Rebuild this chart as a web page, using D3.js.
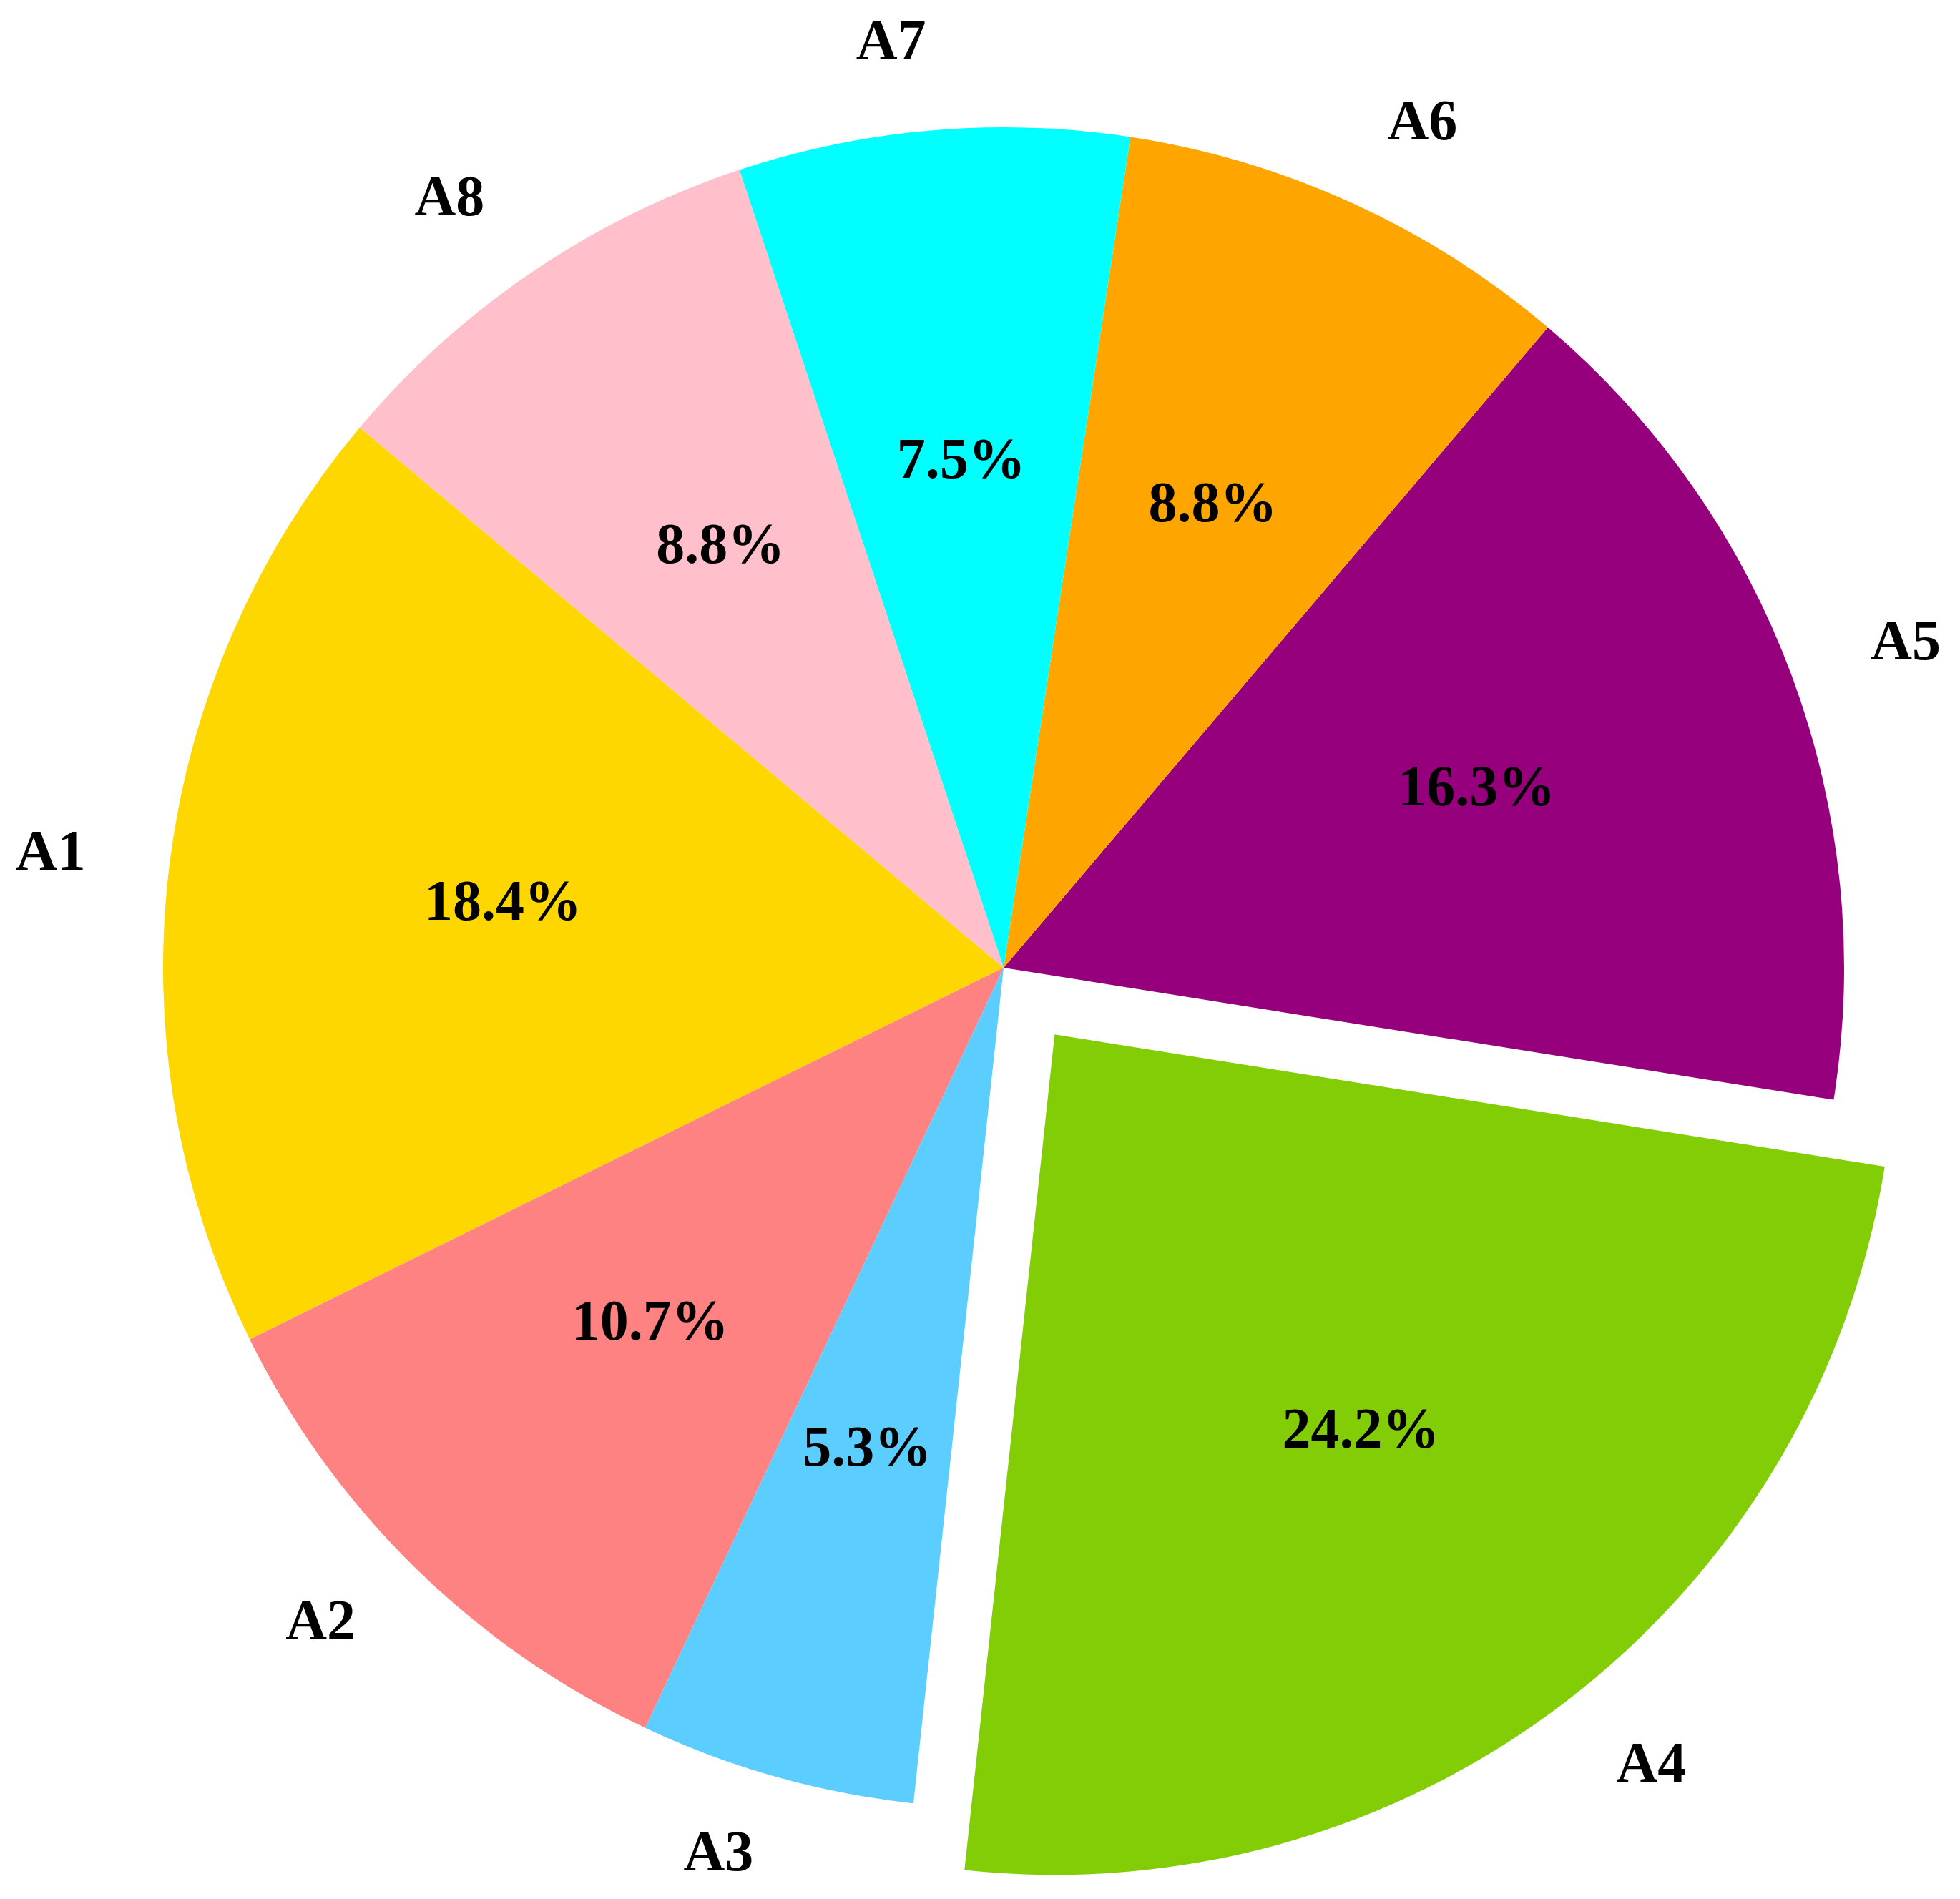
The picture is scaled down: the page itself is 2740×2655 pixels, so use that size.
<!DOCTYPE html>
<html>
<head>
<meta charset="utf-8">
<script src="https://cdn.jsdelivr.net/npm/d3@7"></script>
<style>
  html, body { margin: 0; padding: 0; background: #fff; }
  svg { display: block; }
  text { font-family: "Liberation Serif", "Times New Roman", Times, serif; font-weight: bold; }
</style>
</head>
<body>
<svg id="chart" width="2740" height="2655"></svg>
<script>
const categories = ["A1", "A2", "A3", "A4", "A5", "A6", "A7", "A8"];
const values = [18.4, 10.7, 5.3, 24.2, 16.3, 8.8, 7.5, 8.8];
const colors = ["#FFD700", "#FF8282", "#5BCEFF", "#82CD05", "#96007D", "#FFA500", "#00FFFF", "#FFC0CB"];
const explode = [0, 0, 0, 0.1, 0, 0, 0, 0];

const W = 2740, H = 2655;
const cx = 1403, cy = 1353, R = 1175;
const fontSize = 80;

const svg = d3.select("#chart");
const g = svg.append("g").attr("transform", `translate(${cx},${cy})`);

// matplotlib-style: start at 140° (counterclockwise from 3 o'clock), going counterclockwise
const start = (90 - 140) * Math.PI / 180;
const pie = d3.pie().sort(null).value(d => d.v)
  .startAngle(start).endAngle(start - 2 * Math.PI);

const data = categories.map((c, i) => ({ c, v: values[i], col: colors[i], ex: explode[i] }));
const arcs = pie(data);
const total = d3.sum(values);

const arc = d3.arc().innerRadius(0).outerRadius(R);

arcs.forEach(a => {
  const mid = (a.startAngle + a.endAngle) / 2;
  const ox = Math.sin(mid) * a.data.ex * R;
  const oy = -Math.cos(mid) * a.data.ex * R;
  const sg = g.append("g").attr("transform", `translate(${ox},${oy})`);
  sg.append("path").attr("d", arc(a)).attr("fill", a.data.col);

  // percentage label
  const px = Math.sin(mid) * 0.6 * R, py = -Math.cos(mid) * 0.6 * R;
  sg.append("text")
    .attr("x", px).attr("y", py).attr("dy", "0.22em")
    .attr("text-anchor", "middle")
    .attr("font-size", fontSize)
    .attr("fill", "#000")
    .text((a.data.v / total * 100).toFixed(1) + "%");

  // category label
  const lx = Math.sin(mid) * 1.1 * R, ly = -Math.cos(mid) * 1.1 * R;
  sg.append("text")
    .attr("x", lx).attr("y", ly).attr("dy", "0.22em")
    .attr("text-anchor", lx < 0 ? "end" : "start")
    .attr("font-size", fontSize)
    .attr("fill", "#000")
    .text(a.data.c);
});
</script>
</body>
</html>
